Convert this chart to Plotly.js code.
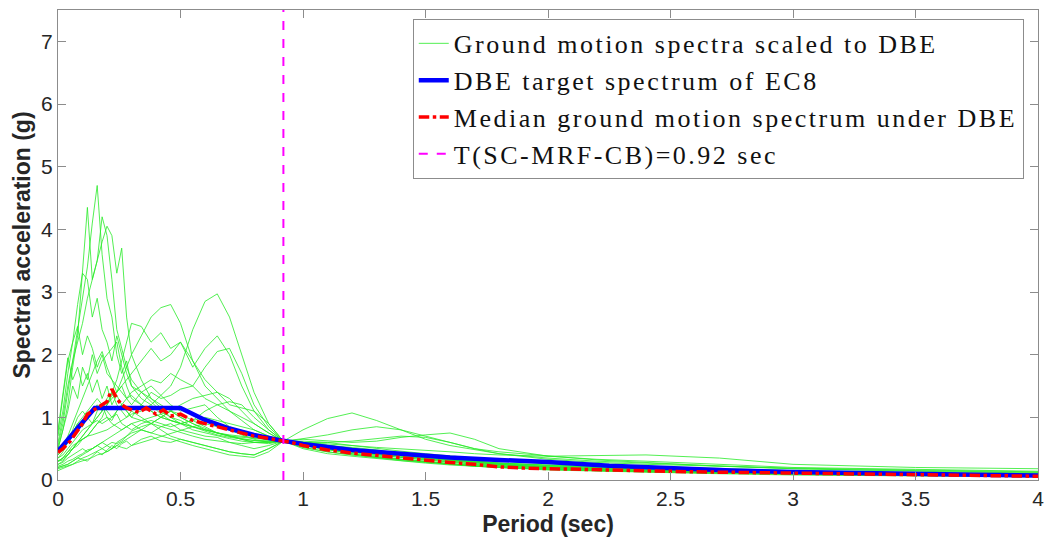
<!DOCTYPE html>
<html>
<head>
<meta charset="utf-8">
<script src="https://cdn.plot.ly/plotly-3.0.1.min.js"></script>
<style>html,body{margin:0;padding:0;background:#fff;}#chart{width:1045px;height:549px;}
.legendtext{letter-spacing:2.5px;}</style>
</head>
<body>
<div id="chart"></div>
<script>
// Period grid for the ground motion spectra (sec)
const periods = [0, 0.02, 0.04, 0.06, 0.08, 0.10, 0.12, 0.14, 0.16, 0.18, 0.20, 0.22, 0.24, 0.26, 0.28, 0.30,
  0.34, 0.38, 0.42, 0.46, 0.50, 0.55, 0.60, 0.65, 0.70, 0.75, 0.80, 0.86, 0.92,
  1.0, 1.1, 1.2, 1.3, 1.4, 1.5, 1.6, 1.7, 1.8, 2.0, 2.2, 2.4, 2.7, 3.0, 3.5, 4.0];

// Individual ground motion spectra scaled to DBE (g)
const gm01 = [0.55,0.9,1.4,1.9,2.4,2.9,3.4,4.1,4.7,3.6,2.9,2.6,2.0,1.7,1.9,1.5,1.3,1.2,1.05,0.95,0.9,0.8,0.75,0.7,0.66,0.62,0.6,0.6,0.62,0.58,0.5,0.44,0.38,0.33,0.3,0.26,0.22,0.2,0.17,0.15,0.13,0.11,0.09,0.07,0.06];
const gm02 = [0.5,0.8,1.2,1.8,2.3,3.3,4.35,3.2,3.5,4.2,3.9,3.2,2.4,2.1,1.8,1.6,1.4,1.25,1.1,1.0,0.95,0.85,0.8,0.75,0.7,0.66,0.63,0.62,0.62,0.6,0.55,0.5,0.45,0.4,0.36,0.32,0.29,0.26,0.22,0.19,0.17,0.14,0.12,0.1,0.08];
const gm03 = [0.6,1.0,1.5,1.9,2.2,2.5,2.9,3.2,3.5,3.8,4.05,3.9,3.3,3.7,2.6,2.0,1.6,1.3,1.15,1.0,0.9,0.85,0.78,0.72,0.68,0.65,0.63,0.62,0.63,0.58,0.52,0.46,0.4,0.36,0.32,0.29,0.26,0.23,0.2,0.17,0.15,0.13,0.11,0.09,0.07];
const gm04 = [0.7,1.1,1.7,2.2,2.8,3.3,3.2,2.6,2.9,2.4,2.2,1.9,2.3,2.0,1.7,1.5,1.4,1.3,1.2,1.1,1.0,0.9,0.82,0.75,0.7,0.68,0.66,0.64,0.62,0.6,0.55,0.5,0.45,0.4,0.36,0.32,0.28,0.25,0.21,0.18,0.16,0.13,0.11,0.09,0.07];
const gm05 = [0.75,1.3,1.9,2.2,2.45,2.0,2.3,2.1,1.8,2.0,1.7,1.6,1.5,1.4,1.3,1.35,1.2,1.1,1.0,0.95,0.9,0.85,0.8,0.75,0.72,0.7,0.68,0.65,0.62,0.6,0.55,0.5,0.46,0.42,0.38,0.33,0.3,0.27,0.23,0.2,0.18,0.15,0.13,0.11,0.09];
const gm06 = [0.3,0.35,0.45,0.55,0.6,0.7,0.8,0.9,1.0,1.1,1.2,1.35,1.4,1.6,1.8,2.0,2.3,2.6,2.75,2.8,2.5,1.9,1.5,1.3,1.1,0.95,0.8,0.7,0.62,0.55,0.48,0.42,0.36,0.32,0.28,0.25,0.22,0.2,0.17,0.15,0.13,0.11,0.1,0.08,0.06];
const gm07 = [0.3,0.32,0.4,0.5,0.6,0.65,0.7,0.72,0.75,0.78,0.8,0.85,0.9,0.95,1.0,1.05,1.1,1.2,1.35,1.5,1.8,2.4,2.85,2.97,2.6,2.0,1.4,0.9,0.62,0.5,0.42,0.38,0.34,0.3,0.27,0.24,0.22,0.2,0.18,0.16,0.14,0.12,0.1,0.08,0.07];
const gm08 = [0.25,0.3,0.4,0.5,0.55,0.65,0.7,0.8,0.9,1.0,1.2,1.4,1.6,1.9,2.2,2.5,2.45,2.2,2.35,2.1,2.2,1.8,2.1,2.3,2.0,1.5,1.1,0.8,0.62,0.55,0.5,0.45,0.4,0.36,0.32,0.28,0.25,0.22,0.19,0.16,0.14,0.12,0.1,0.08,0.06];
const gm09 = [0.35,0.4,0.5,0.6,0.7,0.8,0.85,0.9,0.95,0.9,0.95,1.0,1.1,1.2,1.3,1.4,1.5,1.6,1.55,1.7,1.6,1.5,1.8,2.05,2.1,1.7,1.2,0.85,0.62,0.58,0.55,0.5,0.45,0.42,0.38,0.34,0.3,0.27,0.23,0.2,0.18,0.15,0.13,0.1,0.08];
const gm10 = [0.2,0.22,0.25,0.3,0.35,0.4,0.45,0.5,0.55,0.6,0.55,0.5,0.6,0.65,0.7,0.75,0.8,0.75,0.85,0.9,0.8,0.75,0.7,0.68,0.6,0.55,0.5,0.55,0.62,0.8,0.98,1.07,0.95,0.8,0.65,0.55,0.48,0.42,0.35,0.3,0.27,0.22,0.18,0.14,0.11];
const gm11 = [0.22,0.25,0.3,0.33,0.38,0.42,0.48,0.5,0.55,0.5,0.45,0.5,0.55,0.6,0.65,0.7,0.8,0.9,1.0,1.1,1.05,0.95,0.85,0.75,0.7,0.65,0.6,0.58,0.62,0.66,0.72,0.8,0.85,0.8,0.7,0.6,0.5,0.45,0.38,0.32,0.28,0.22,0.18,0.15,0.12];
const gm12 = [0.15,0.18,0.22,0.25,0.3,0.35,0.38,0.42,0.45,0.5,0.55,0.6,0.58,0.62,0.7,0.78,0.85,0.9,0.8,0.7,0.65,0.6,0.55,0.5,0.45,0.42,0.4,0.5,0.62,0.65,0.63,0.6,0.62,0.68,0.72,0.75,0.65,0.5,0.38,0.33,0.3,0.25,0.2,0.17,0.14];
const gm13 = [0.18,0.2,0.22,0.25,0.28,0.3,0.33,0.36,0.4,0.42,0.45,0.5,0.55,0.52,0.5,0.55,0.6,0.65,0.7,0.75,0.8,0.85,0.9,0.85,0.8,0.72,0.65,0.6,0.62,0.6,0.58,0.55,0.52,0.5,0.48,0.45,0.42,0.4,0.38,0.39,0.4,0.35,0.25,0.2,0.18];
const gm14 = [0.4,0.5,0.6,0.8,1.0,1.1,1.0,0.9,1.1,1.2,1.0,0.95,1.1,1.2,1.1,1.0,1.2,1.4,1.3,1.35,1.45,1.5,1.3,1.2,1.1,1.0,0.9,0.75,0.62,0.52,0.45,0.4,0.35,0.31,0.28,0.25,0.22,0.2,0.16,0.14,0.12,0.1,0.08,0.06,0.05];
const gm15 = [0.2,0.22,0.25,0.3,0.35,0.33,0.3,0.38,0.45,0.4,0.48,0.55,0.5,0.58,0.62,0.55,0.65,0.7,0.62,0.6,0.65,0.6,0.55,0.5,0.45,0.42,0.4,0.5,0.62,0.6,0.55,0.52,0.48,0.42,0.38,0.35,0.32,0.3,0.26,0.22,0.2,0.16,0.13,0.1,0.08];
const gm16 = [0.45,0.55,0.7,0.9,1.1,1.3,1.5,1.7,1.9,2.05,1.8,1.6,1.4,1.5,1.3,1.2,1.4,1.5,1.35,1.2,1.1,1.15,1.2,1.0,0.85,0.75,0.7,0.68,0.62,0.58,0.52,0.46,0.42,0.38,0.35,0.32,0.28,0.25,0.2,0.17,0.15,0.12,0.1,0.08,0.06];
const gm17 = [0.5,0.8,1.1,1.5,1.3,1.8,1.6,2.0,1.7,1.9,2.0,2.1,2.2,1.8,1.5,1.3,1.2,1.1,1.0,0.95,0.9,0.95,1.0,0.95,0.9,0.85,0.8,0.7,0.62,0.55,0.48,0.42,0.37,0.33,0.29,0.26,0.23,0.21,0.17,0.15,0.13,0.11,0.09,0.07,0.06];
const gm18 = [0.3,0.35,0.45,0.5,0.6,0.7,0.8,0.9,1.0,1.1,1.2,1.3,1.4,1.5,1.6,1.7,1.9,2.1,1.9,2.0,2.2,1.9,1.6,1.4,1.2,1.15,1.1,0.9,0.62,0.52,0.45,0.4,0.36,0.32,0.29,0.26,0.24,0.21,0.18,0.16,0.14,0.12,0.1,0.08,0.07];
const gm19 = [0.25,0.28,0.35,0.4,0.45,0.5,0.45,0.5,0.55,0.6,0.65,0.7,0.75,0.8,0.85,0.8,0.9,0.95,0.9,0.85,0.9,0.95,1.1,1.2,1.25,1.2,1.0,0.8,0.62,0.55,0.5,0.46,0.43,0.4,0.36,0.33,0.3,0.27,0.24,0.21,0.19,0.16,0.14,0.11,0.09];
const gm20 = [0.8,1.4,1.95,1.6,1.8,1.5,1.7,1.4,1.6,1.3,1.5,1.2,1.35,1.2,1.1,1.0,0.95,0.9,0.85,0.8,0.75,0.7,0.65,0.62,0.6,0.58,0.6,0.62,0.62,0.58,0.52,0.47,0.42,0.38,0.34,0.3,0.27,0.24,0.2,0.17,0.15,0.12,0.1,0.08,0.06];
const gm21 = [0.4,0.5,0.6,0.75,0.9,1.0,1.1,1.2,1.3,1.2,1.1,1.0,1.05,0.9,0.85,0.9,0.8,0.75,0.7,0.65,0.6,0.55,0.5,0.45,0.4,0.38,0.36,0.45,0.62,0.62,0.6,0.55,0.5,0.46,0.42,0.38,0.35,0.32,0.28,0.24,0.22,0.18,0.15,0.12,0.1];
const gm22 = [0.35,0.45,0.6,0.75,0.9,0.85,1.0,1.1,1.2,1.1,1.3,1.4,1.2,1.1,1.0,1.1,1.0,0.9,1.0,1.1,1.2,1.3,1.35,1.4,1.3,1.1,0.9,0.75,0.62,0.56,0.5,0.45,0.42,0.38,0.35,0.31,0.28,0.25,0.21,0.18,0.16,0.13,0.11,0.09,0.07];
const gm23 = [0.3,0.35,0.4,0.5,0.6,0.65,0.7,0.8,0.9,0.95,1.0,0.9,0.85,0.8,0.85,0.9,0.95,1.0,1.05,1.1,1.0,0.9,0.8,0.75,0.7,0.65,0.6,0.6,0.62,0.6,0.6,0.62,0.66,0.7,0.68,0.6,0.5,0.42,0.33,0.28,0.25,0.22,0.19,0.16,0.13];
const groundMotions = [gm01,gm02,gm03,gm04,gm05,gm06,gm07,gm08,gm09,gm10,gm11,gm12,gm13,gm14,gm15,gm16,gm17,gm18,gm19,gm20,gm21,gm22,gm23];

// EC8 DBE target spectrum
const targetT  = [0, 0.15, 0.5, 0.6, 0.7, 0.8, 0.9, 1.0, 1.2, 1.4, 1.6, 1.8, 2.0, 2.25, 2.5, 2.75, 3.0, 3.25, 3.5, 3.75, 4.0];
const targetSa = [0.46, 1.15, 1.15, 0.958, 0.821, 0.719, 0.639, 0.575, 0.479, 0.411, 0.359, 0.319, 0.288, 0.227, 0.184, 0.152, 0.128, 0.109, 0.094, 0.082, 0.072];

// Median ground motion spectrum
const medianT  = [0, 0.02, 0.05, 0.08, 0.1, 0.12, 0.15, 0.18, 0.2, 0.22, 0.24, 0.26, 0.28, 0.3, 0.33, 0.36, 0.4, 0.43, 0.46, 0.5,
  0.55, 0.6, 0.65, 0.7, 0.75, 0.8, 0.85, 0.9, 0.95, 1.0, 1.1, 1.2, 1.3, 1.4, 1.5, 1.6, 1.7, 1.8, 1.9, 2.0, 2.2, 2.4, 2.6, 2.8, 3.0, 3.2, 3.4, 3.6, 3.8, 4.0];
const medianSa = [0.44, 0.5, 0.62, 0.8, 0.9, 1.05, 1.12, 1.2, 1.25, 1.45, 1.3, 1.2, 1.15, 1.12, 1.08, 1.15, 1.05, 1.12, 1.02, 1.05,
  0.95, 0.9, 0.85, 0.8, 0.75, 0.7, 0.67, 0.64, 0.6, 0.55, 0.48, 0.43, 0.39, 0.35, 0.31, 0.28, 0.25, 0.21, 0.19, 0.18, 0.17, 0.15, 0.13, 0.12, 0.11, 0.1, 0.09, 0.08, 0.07, 0.06];

// Fundamental period line
const periodLineX = [0.92, 0.92];
const periodLineY = [0, 7.5];

const legendNames = ["Ground motion spectra scaled to DBE", "DBE target spectrum of EC8",
  "Median ground motion spectrum under DBE", "T(SC-MRF-CB)=0.92 sec"];

const xTicks = [0, 0.5, 1, 1.5, 2, 2.5, 3, 3.5, 4];
const yTicks = [0, 1, 2, 3, 4, 5, 6, 7];

const traces = [];
groundMotions.forEach((sa, i) => {
  traces.push({
    x: periods, y: sa, type: 'scatter', mode: 'lines',
    line: {color: 'rgb(40,235,40)', width: 1},
    opacity: 0.8,
    name: legendNames[0], legendgroup: 'gm', showlegend: i === 0,
    hoverinfo: 'skip'
  });
});
traces.push({x: targetT, y: targetSa, type: 'scatter', mode: 'lines',
  line: {color: 'rgb(0,0,255)', width: 4.5}, name: legendNames[1]});
traces.push({x: medianT, y: medianSa, type: 'scatter', mode: 'lines',
  line: {color: 'rgb(255,0,0)', width: 3.5, dash: 'dashdot'}, name: legendNames[2]});
traces.push({x: periodLineX, y: periodLineY, type: 'scatter', mode: 'lines',
  line: {color: 'rgb(255,0,255)', width: 2, dash: 'dash'}, name: legendNames[3]});

const axisCommon = {
  showgrid: false, zeroline: false, showline: true, linecolor: '#8c8c8c', linewidth: 1,
  mirror: 'ticks', ticks: 'inside', ticklen: 8, tickcolor: '#8c8c8c', automargin: false,
  tickfont: {family: 'Liberation Sans, Arial, sans-serif', size: 21, color: '#262626'}
};

const layout = {
  width: 1045, height: 549,
  margin: {l: 58, r: 7, t: 10, b: 69},
  paper_bgcolor: '#fff', plot_bgcolor: '#fff',
  xaxis: Object.assign({}, axisCommon, {
    range: [0, 4], tickvals: xTicks, ticktext: xTicks.map(String),
    title: {text: 'Period (sec)', font: {family: 'Liberation Sans, Arial, sans-serif', size: 23, color: '#262626', weight: 'bold'}, standoff: 6}
  }),
  yaxis: Object.assign({}, axisCommon, {
    range: [0, 7.5], tickvals: yTicks, ticktext: yTicks.map(String),
    title: {text: 'Spectral acceleration (g)', font: {family: 'Liberation Sans, Arial, sans-serif', size: 23, color: '#262626', weight: 'bold'}, standoff: 4}
  }),
  legend: {
    x: 0.362, y: 0.981, xanchor: 'left', yanchor: 'top',
    bgcolor: '#fff', bordercolor: '#8c8c8c', borderwidth: 1,
    font: {family: '"Liberation Serif", "Times New Roman", serif', size: 26, color: '#111'},
    tracegroupgap: 0, itemwidth: 30
  },
  showlegend: true
};

Plotly.newPlot('chart', traces, layout, {staticPlot: true, displayModeBar: false});
</script>
</body>
</html>
